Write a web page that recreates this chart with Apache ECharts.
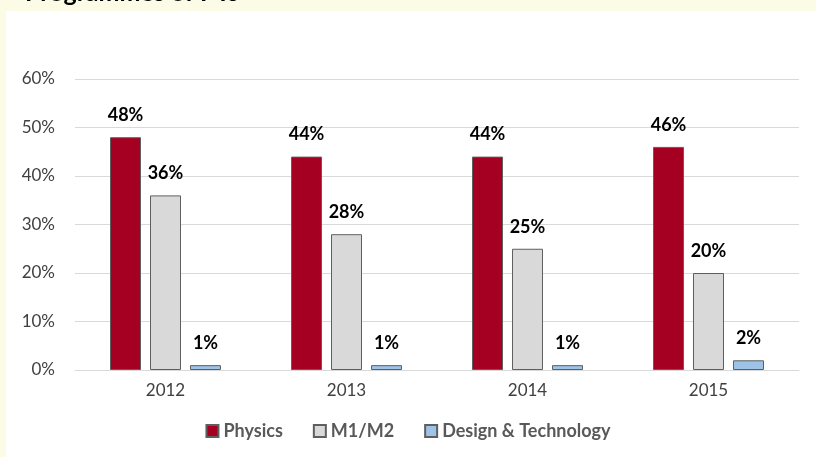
<!DOCTYPE html>
<html>
<head>
<meta charset="utf-8">
<script src="https://cdn.jsdelivr.net/npm/echarts@6/dist/echarts.min.js"></script>
<style>
html,body{margin:0;padding:0;background:#fcfce6;}
#main{width:816px;height:457px;}
</style>
</head>
<body>
<div id="main"></div>
<script>
var years = ['2012', '2013', '2014', '2015'];
var physics = [48, 44, 44, 46];
var m1m2 = [36, 28, 25, 20];
var design = [1, 1, 1, 2];
var yTicks = [0, 10, 20, 30, 40, 50, 60];

var chart = echarts.init(document.getElementById('main'));
var font = 'Lato, "Open Sans", sans-serif';

function bar(name, data, color) {
    return {
        name: name,
        type: 'bar',
        data: data,
        barWidth: 31,
        barGap: '29%',
        itemStyle: { color: color, borderColor: '#5f5f5f', borderWidth: 1 },
        label: {
            show: true,
            position: 'top',
            distance: 13,
            formatter: '{c}%',
            color: '#000',
            fontWeight: 'bold',
            fontSize: 18,
            fontFamily: font
        }
    };
}

var option = {
    backgroundColor: '#fcfce6',
    textStyle: { fontFamily: font },
    graphic: [
        { type: 'rect', left: 6, top: 11, shape: { width: 810, height: 446 }, style: { fill: '#ffffff' }, z: -10 }
    ],
    title: {
        text: 'Programmes of PTs',
        left: 20,
        top: -25,
        textStyle: { fontSize: 25, fontWeight: 'bold', color: '#000', fontFamily: font }
    },
    legend: {
        bottom: 12,
        left: 'center',
        itemWidth: 12,
        itemHeight: 12,
        itemGap: 30,
        icon: 'rect',
        textStyle: { color: '#595959', fontSize: 18, fontWeight: 'bold', fontFamily: font },
        data: ['Physics', 'M1/M2', 'Design & Technology']
    },
    grid: { left: 75, right: 17, top: 79, bottom: 87 },
    xAxis: {
        type: 'category',
        data: years,
        axisTick: { show: false },
        axisLine: { lineStyle: { color: '#d9d9d9' } },
        axisLabel: { color: '#404040', fontSize: 17, margin: 12 }
    },
    yAxis: {
        type: 'value',
        min: yTicks[0],
        max: yTicks[yTicks.length - 1],
        interval: 10,
        axisLabel: { color: '#404040', fontSize: 17, formatter: '{value}%', margin: 20 },
        splitLine: { lineStyle: { color: '#d9d9d9' } },
        axisLine: { show: false },
        axisTick: { show: false }
    },
    series: [
        bar('Physics', physics, '#a50021'),
        bar('M1/M2', m1m2, '#d9d9d9'),
        bar('Design & Technology', design, '#9dc3e6')
    ]
};
chart.setOption(option);
</script>
</body>
</html>
